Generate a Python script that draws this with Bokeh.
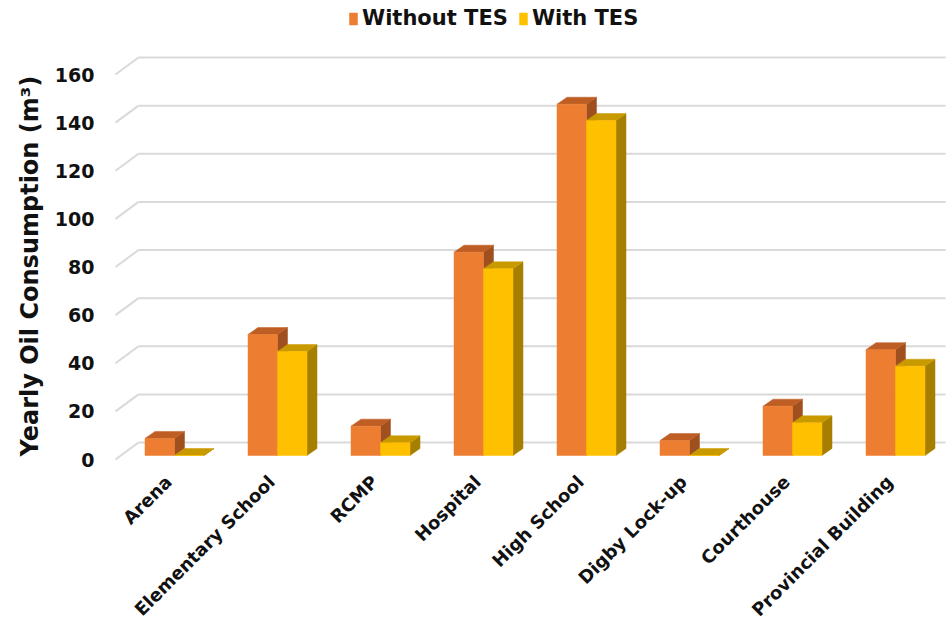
import numpy as np
from bokeh.plotting import figure
from bokeh.models import Range1d, LinearAxis, FixedTicker, Legend, LegendItem, ColumnDataSource, Title
from bokeh.embed import file_html
from bokeh.resources import INLINE

# ---------------- data ----------------
categories = ["Arena", "Elementary School", "RCMP", "Hospital", "High School",
              "Digby Lock-up", "Courthouse", "Provincial Building"]
without_tes = [7.1, 50.3, 12.2, 84.5, 146.0, 6.2, 20.5, 44.0]
with_tes = [0.0, 43.2, 5.3, 77.6, 139.2, 0.0, 13.6, 37.1]
y_ticks = [0, 20, 40, 60, 80, 100, 120, 140, 160]
series_names = ["Without TES", "With TES"]
y_title = "Yearly Oil Consumption (m³)"

# ---------------- styling / geometry ----------------
FONT = "DejaVu Sans"
PX_PER_CAT = 103.0          # horizontal pixels per category
PX_PER_UNIT = 2.406         # vertical pixels per value unit
BAR_W = 29.5 / PX_PER_CAT   # width of each bar front face (category units)
BAR_DX = 10.0 / PX_PER_CAT  # oblique depth of bars, x
BAR_DY = 7.0 / PX_PER_UNIT  # oblique depth of bars, y
WALL_FRONT_X = -59.0 / PX_PER_CAT
WALL_BACK_X = -36.0 / PX_PER_CAT
WALL_FRONT_DY = -4.0 / PX_PER_UNIT
WALL_BACK_DY = 13.0 / PX_PER_UNIT
WALL_RIGHT_X = 771.0 / PX_PER_CAT
LABEL_SHIFT = -6.0 / PX_PER_CAT

colors = {
    "Without TES": dict(front="#ED7D31", top="#BE5E25", side="#A0501F"),
    "With TES": dict(front="#FFC000", top="#C99A00", side="#A67F00"),
}
grid_color = "#D9D9D9"
text_color = "#111111"

W, H = 952, 634
FRAME_L, FRAME_R, FRAME_T, FRAME_B = 112, 948, 0, 470
ZERO_PX = 455.0
CAT0_PX = 174.0

x_start = (FRAME_L - CAT0_PX) / PX_PER_CAT
x_end = (FRAME_R - CAT0_PX) / PX_PER_CAT
y_start = (ZERO_PX - FRAME_B) / PX_PER_UNIT
y_end = (ZERO_PX - FRAME_T) / PX_PER_UNIT
front_shift = -WALL_FRONT_DY

p = figure(width=W, height=H, output_backend="svg", toolbar_location=None,
           x_range=Range1d(x_start, x_end), y_range=Range1d(y_start, y_end),
           y_axis_location=None, x_axis_location=None,
           min_border_left=FRAME_L, min_border_right=W - FRAME_R,
           min_border_top=FRAME_T, min_border_bottom=H - FRAME_B)
p.outline_line_color = None
p.xgrid.visible = False
p.ygrid.visible = False
p.background_fill_color = "white"

# ---------------- walls / gridlines ----------------
gx0, gy0, gx1, gy1 = [], [], [], []
hx0, hy0, hx1, hy1 = [], [], [], []
for t in y_ticks:
    gx0.append(WALL_FRONT_X); gy0.append(t + WALL_FRONT_DY)
    gx1.append(WALL_BACK_X); gy1.append(t + WALL_BACK_DY)
    hx0.append(WALL_BACK_X); hy0.append(t + WALL_BACK_DY)
    hx1.append(WALL_RIGHT_X); hy1.append(t + WALL_BACK_DY)
p.segment(gx0, gy0, gx1, gy1, line_color=grid_color, line_width=2)
p.segment(hx0, hy0, hx1, hy1, line_color=grid_color, line_width=2)

# ---------------- 3-D bars ----------------
xs_center = np.arange(len(categories), dtype=float)
front_renderers = []
for k, (name, vals) in enumerate(zip(series_names, [without_tes, with_tes])):
    c = colors[name]
    left = xs_center - BAR_W + k * BAR_W
    right = left + BAR_W
    vals = np.array(vals, dtype=float)
    side_xs, side_ys, top_xs, top_ys = [], [], [], []
    for l, r, v in zip(left, right, vals):
        side_xs.append([r, r, r + BAR_DX, r + BAR_DX])
        side_ys.append([0, v, v + BAR_DY, BAR_DY])
        top_xs.append([l, r, r + BAR_DX, l + BAR_DX])
        top_ys.append([v, v, v + BAR_DY, v + BAR_DY])
    p.patches(side_xs, side_ys, fill_color=c["side"], line_color=c["side"], line_width=0.5)
    p.patches(top_xs, top_ys, fill_color=c["top"], line_color=c["top"], line_width=0.5)
    src = ColumnDataSource(dict(x=(left + right) / 2, top=vals))
    r_ = p.vbar(x="x", top="top", bottom=0, width=BAR_W, source=src,
                fill_color=c["front"], line_color=c["front"], line_width=0.5)
    front_renderers.append(r_)

# ---------------- axes ----------------
p.extra_y_ranges = {"front": Range1d(y_start + front_shift, y_end + front_shift)}
yaxis = LinearAxis(y_range_name="front", ticker=FixedTicker(ticks=y_ticks))
yaxis.axis_line_color = None
yaxis.major_tick_line_color = None
yaxis.minor_tick_line_color = None
yaxis.major_tick_out = 0
yaxis.major_label_standoff = 18
yaxis.major_label_text_font = FONT
yaxis.major_label_text_font_style = "bold"
yaxis.major_label_text_font_size = "19px"
yaxis.major_label_text_color = text_color
p.add_layout(yaxis, "left")

ytitle = Title(text=y_title, align="left", offset=14, standoff=16)
ytitle.text_font = FONT
ytitle.text_font_style = "bold"
ytitle.text_font_size = "24px"
ytitle.text_color = text_color
p.add_layout(ytitle, "left")

tick_pos = [float(x + LABEL_SHIFT) for x in xs_center]
xaxis = LinearAxis(ticker=FixedTicker(ticks=tick_pos))
xaxis.major_label_overrides = {t: c for t, c in zip(tick_pos, categories)}
xaxis.axis_line_color = None
xaxis.major_tick_line_color = None
xaxis.minor_tick_line_color = None
xaxis.major_tick_out = 0
xaxis.major_label_orientation = np.pi / 4
xaxis.major_label_standoff = 8
xaxis.major_label_text_font = FONT
xaxis.major_label_text_font_style = "bold"
xaxis.major_label_text_font_size = "18px"
xaxis.major_label_text_color = text_color
p.add_layout(xaxis, "below")

# ---------------- legend ----------------
legend = Legend(items=[LegendItem(label=n, renderers=[r]) for n, r in zip(series_names, front_renderers)],
                orientation="horizontal", location=(236, 440))
legend.glyph_width = 10
legend.glyph_height = 15
legend.label_standoff = 4
legend.spacing = 10
legend.padding = 0
legend.margin = 0
legend.border_line_color = None
legend.background_fill_alpha = 0
legend.label_text_font = FONT
legend.label_text_font_style = "bold"
legend.label_text_font_size = "21px"
legend.label_text_color = text_color
p.add_layout(legend, "center")

open("out.html", "w").write(file_html(p, INLINE))
